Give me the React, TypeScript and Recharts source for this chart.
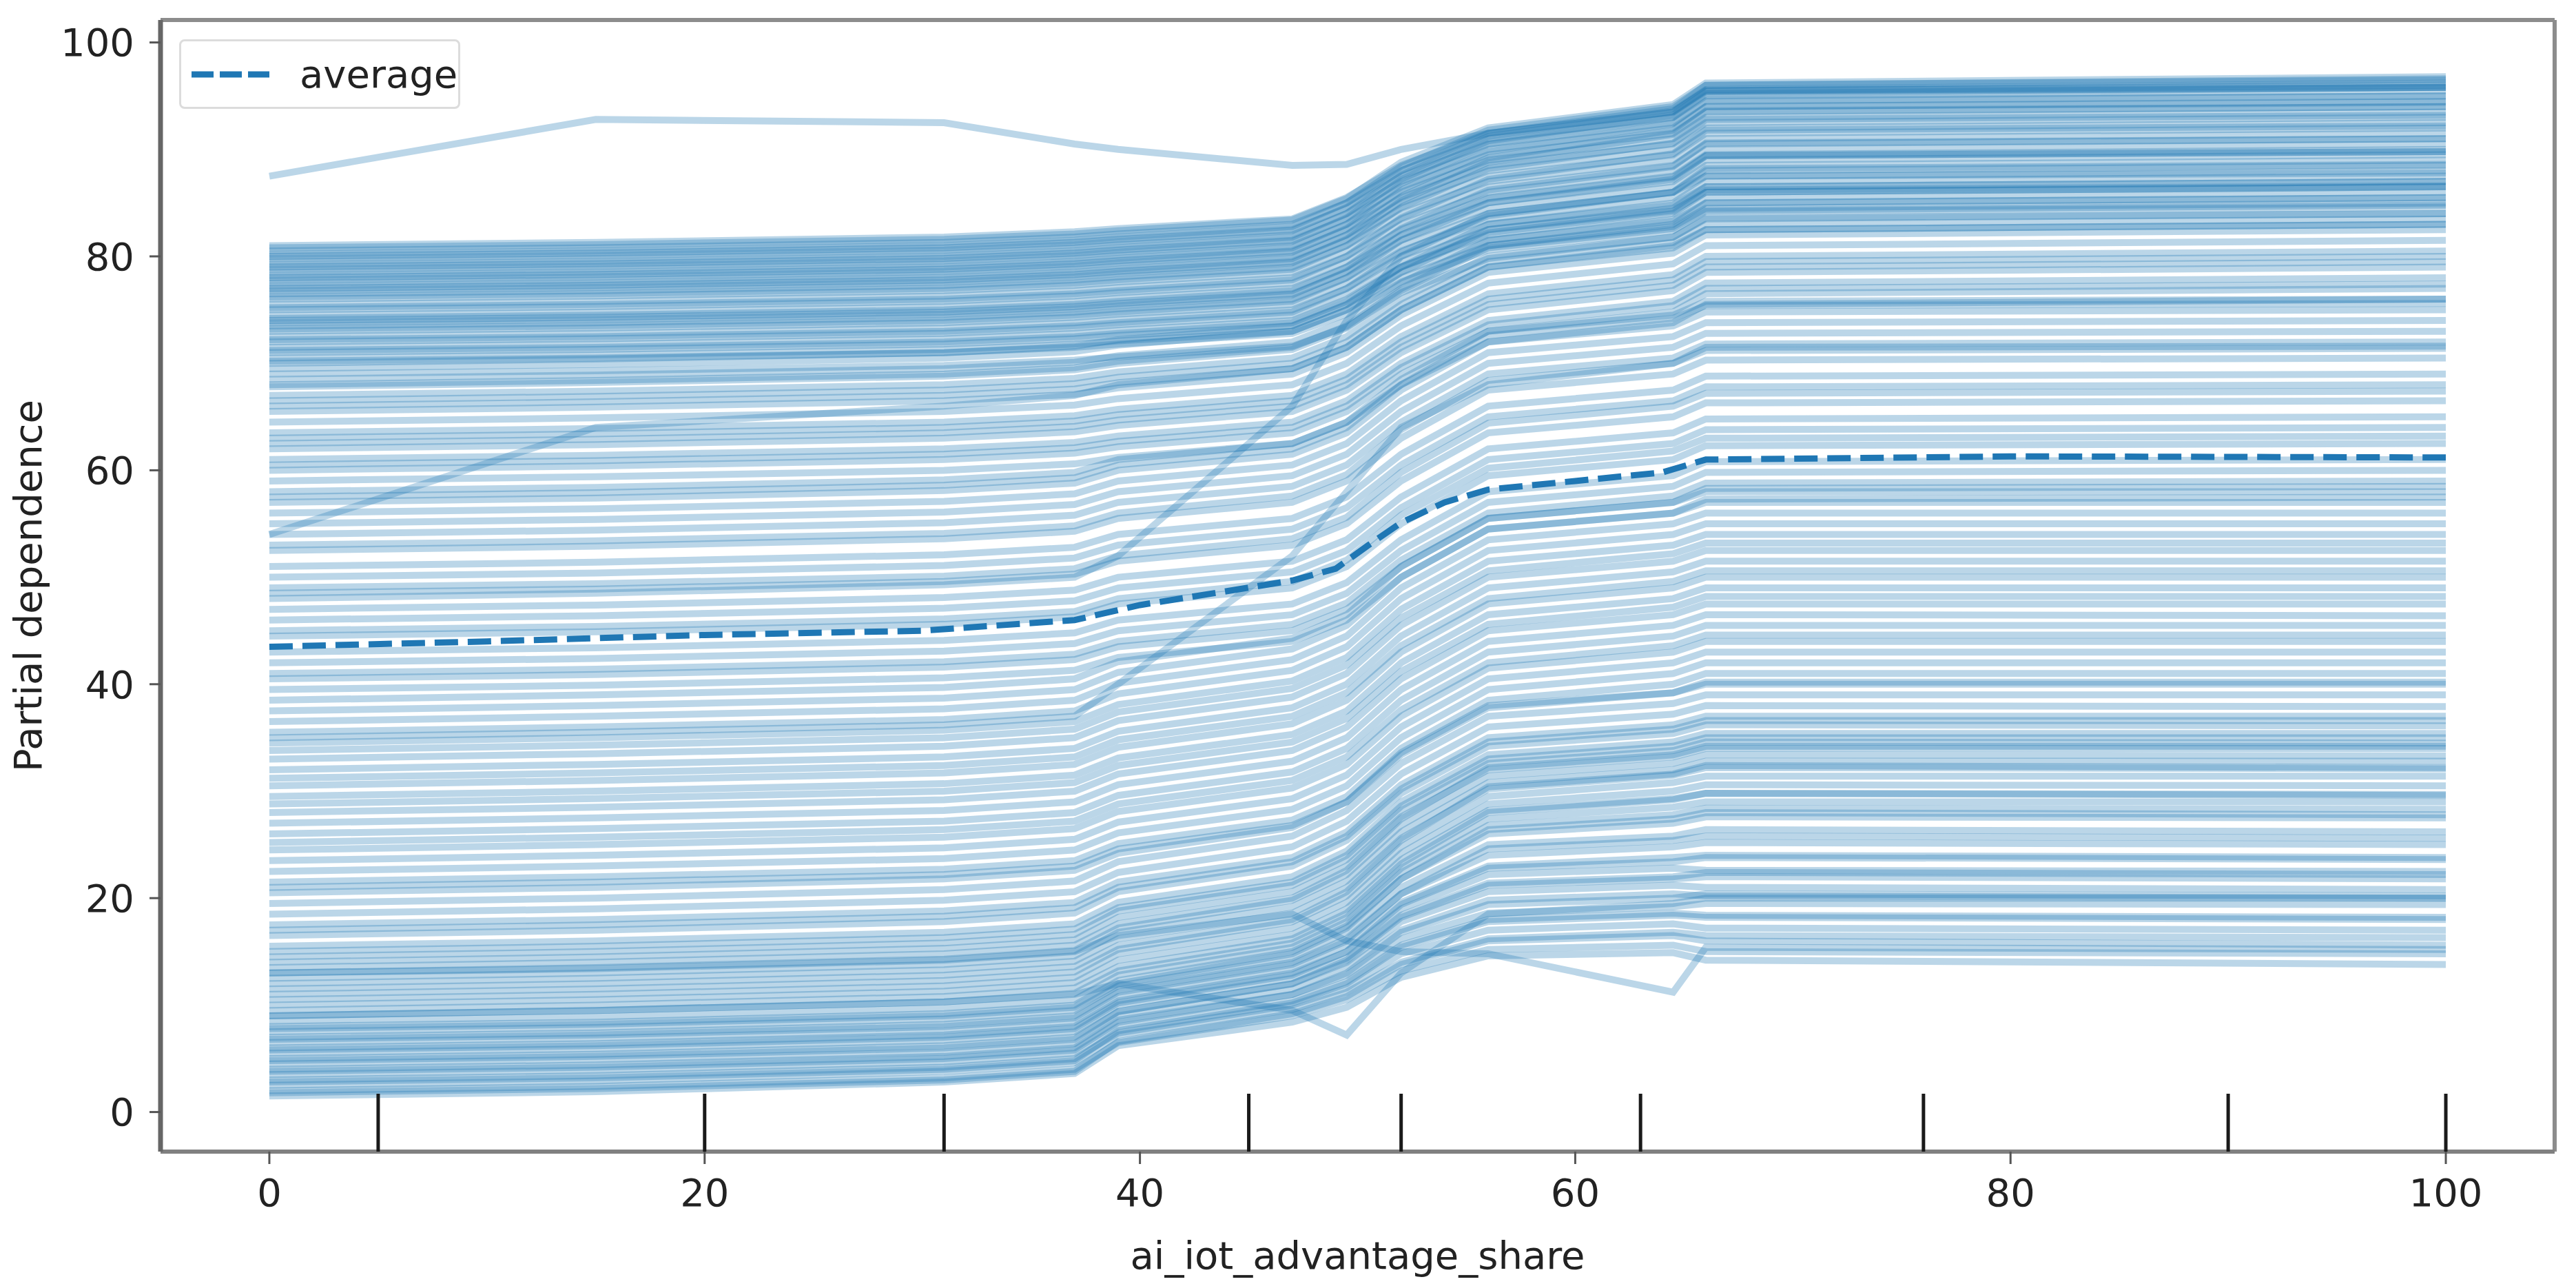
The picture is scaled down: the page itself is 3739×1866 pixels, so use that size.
import { ComposedChart, Legend, Line, ReferenceLine, Scatter, XAxis, YAxis } from 'recharts'

const WIDTH = 3739
const HEIGHT = 1866
const FONT = '"DejaVu Sans", sans-serif'
const BLUE = '#1f77b4'

const gridX = [0, 15, 31, 37, 39, 47, 49.5, 52, 56, 64.5, 66, 100]

// individual conditional expectation curves, one row per sample
const iceLines: number[][] = [
  [1.5, 1.9, 2.8, 3.6, 6.2, 8.4, 9.8, 12.6, 14.6, 14.9, 14.2, 13.8],
  [1.8, 2.2, 3.0, 3.8, 6.6, 9.2, 10.8, 13.8, 16.0, 16.5, 16.0, 15.6],
  [2, 2.4, 3.2, 4.0, 6.5, 9.0, 10.5, 13.2, 15.2, 15.6, 15.0, 14.8],
  [2.5, 2.9, 3.8, 4.6, 7.2, 9.6, 11.2, 14.0, 16.2, 16.8, 16.5, 16.3],
  [2.8, 3.2, 4.0, 4.8, 7.6, 10.2, 12.0, 15.4, 17.8, 18.4, 18.2, 18.0],
  [3, 3.4, 4.2, 5.0, 7.4, 10.0, 11.6, 14.8, 17.0, 17.6, 17.2, 17.0],
  [3.5, 3.9, 4.7, 5.5, 8.0, 10.4, 12.2, 15.6, 18.0, 18.6, 18.4, 18.2],
  [3.8, 4.2, 5.0, 5.8, 8.4, 11.0, 13.0, 16.8, 19.4, 20.0, 20.4, 20.2],
  [4, 4.4, 5.2, 6.0, 8.6, 11.0, 12.8, 16.2, 18.6, 19.2, 19.5, 19.4],
  [4.5, 4.9, 5.6, 6.4, 9.0, 11.5, 13.5, 17.0, 19.8, 20.4, 20.2, 20.0],
  [4.8, 5.2, 6.0, 6.8, 9.4, 12.0, 14.2, 18.2, 21.2, 21.8, 22.0, 21.8],
  [5, 5.4, 6.2, 7.0, 9.4, 12.0, 14.0, 17.8, 20.6, 21.2, 21.0, 20.8],
  [5.5, 5.9, 6.7, 7.5, 10.0, 12.5, 14.4, 18.4, 21.4, 22.0, 22.4, 22.2],
  [5.8, 6.2, 7.0, 7.8, 10.2, 12.8, 15.0, 19.4, 22.8, 23.4, 23.8, 23.6],
  [6, 6.4, 7.2, 8.0, 10.4, 13.0, 15.0, 19.0, 22.2, 22.8, 22.6, 22.5],
  [6.5, 6.9, 7.6, 8.4, 10.8, 13.4, 15.6, 19.6, 23.0, 23.8, 24.0, 23.8],
  [6.8, 7.2, 8.0, 8.8, 11.2, 13.8, 16.0, 20.4, 24.6, 25.4, 25.8, 25.6],
  [7, 7.4, 8.2, 9.0, 11.4, 14.0, 16.2, 20.4, 24.0, 24.8, 25.2, 25.0],
  [7.5, 7.9, 8.7, 9.5, 11.8, 14.4, 16.8, 21.0, 25.0, 25.8, 26.4, 26.2],
  [7.8, 8.2, 9.0, 9.8, 12.0, 14.8, 17.2, 21.8, 26.4, 27.4, 28.0, 27.8],
  [8, 8.4, 9.2, 10.0, 12.3, 15.0, 17.4, 21.8, 26.0, 27.0, 27.6, 27.5],
  [8.5, 8.9, 9.7, 10.5, 12.8, 15.4, 17.8, 22.4, 26.8, 27.8, 28.4, 28.3],
  [9, 9.5, 10.3, 11.1, 13.2, 15.8, 18.2, 22.8, 27.4, 28.5, 29.0, 29.0],
  [9.5, 10.0, 10.8, 11.6, 13.6, 16.2, 18.6, 23.2, 28.0, 29.2, 29.8, 29.6],
  [10, 10.5, 11.3, 12.1, 14.2, 16.6, 19.0, 23.6, 28.2, 29.3, 29.8, 29.7],
  [10.5, 11.0, 11.8, 12.6, 14.8, 17.2, 19.6, 24.2, 28.8, 30.0, 30.6, 30.5],
  [11, 11.5, 12.3, 13.1, 15.2, 17.8, 20.2, 24.8, 29.5, 30.8, 31.4, 31.4],
  [11.5, 12.0, 12.8, 13.6, 15.6, 18.0, 20.6, 25.4, 30.4, 31.6, 32.4, 32.2],
  [12, 12.5, 13.3, 14.1, 16.2, 18.6, 21.0, 25.6, 30.2, 31.5, 32.2, 32.1],
  [12.5, 13.0, 13.8, 14.6, 16.8, 19.2, 21.6, 26.2, 30.8, 32.0, 32.8, 32.8],
  [13, 13.5, 14.3, 15.1, 17.2, 19.8, 22.2, 26.8, 31.4, 32.6, 33.4, 33.3],
  [13.5, 14.0, 14.8, 15.6, 17.6, 20.0, 22.6, 27.4, 32.2, 33.4, 34.2, 34.2],
  [14, 14.5, 15.3, 16.1, 18.2, 20.6, 23.0, 27.6, 32.0, 33.2, 34.0, 34.0],
  [14.5, 15.0, 15.8, 16.6, 18.8, 21.2, 23.6, 28.2, 32.6, 33.8, 34.6, 34.5],
  [15, 15.5, 16.3, 17.1, 19.1, 21.5, 24.0, 28.6, 33.0, 34.2, 35.0, 35.0],
  [15.5, 16.0, 16.8, 17.6, 19.6, 22.0, 24.4, 29.0, 33.4, 34.6, 35.4, 35.4],
  [16.5, 17.0, 17.8, 18.6, 20.6, 23.0, 25.4, 29.8, 34.2, 35.4, 36.2, 36.1],
  [17, 17.5, 18.3, 19.1, 21.0, 23.4, 25.8, 30.2, 34.6, 35.8, 36.6, 36.6],
  [17.5, 18.0, 18.8, 19.6, 21.5, 23.8, 26.2, 30.6, 35.0, 36.2, 37.0, 37.0],
  [18.5, 19.0, 19.8, 20.6, 22.4, 24.8, 27.2, 31.6, 36.0, 37.2, 38.0, 37.9],
  [19.5, 20.0, 20.8, 21.6, 23.4, 25.8, 28.2, 32.6, 37.0, 38.2, 39.0, 39.0],
  [20.5, 21.0, 21.8, 22.6, 24.2, 26.6, 29.0, 33.6, 38.0, 39.2, 40.0, 40.0],
  [21, 21.5, 22.2, 23.0, 24.6, 26.8, 29.0, 33.4, 37.8, 39.2, 40.2, 40.2],
  [21.5, 22.0, 22.7, 23.5, 25.1, 27.3, 29.5, 34.0, 38.5, 40.0, 41.0, 41.0],
  [22.5, 23.0, 23.7, 24.5, 26.1, 28.3, 30.5, 35.0, 39.5, 41.0, 42.0, 42.0],
  [23.5, 24.0, 24.7, 25.5, 27.1, 29.3, 31.5, 36.0, 40.5, 42.0, 43.0, 43.0],
  [24.5, 25.0, 25.7, 26.5, 28.1, 30.3, 32.5, 37.0, 41.5, 43.0, 44.0, 44.0],
  [25.2, 25.7, 26.4, 27.2, 28.8, 31.0, 33.2, 37.6, 42.0, 43.6, 44.6, 44.6],
  [26, 26.5, 27.2, 28.0, 29.6, 31.8, 34.0, 38.5, 43.0, 44.5, 45.5, 45.5],
  [27, 27.5, 28.2, 29.0, 30.6, 32.8, 35.0, 39.5, 44.0, 45.5, 46.5, 46.4],
  [28, 28.5, 29.2, 30.0, 31.6, 33.8, 36.0, 40.5, 45.0, 46.5, 47.5, 47.5],
  [28.8, 29.3, 30.0, 30.8, 32.4, 34.6, 36.8, 41.2, 45.6, 47.2, 48.2, 48.2],
  [29.5, 30.0, 30.7, 31.5, 33.1, 35.3, 37.5, 42.0, 46.5, 48.0, 49.0, 49.0],
  [30.5, 31.0, 31.7, 32.5, 34.1, 36.3, 38.5, 43.0, 47.5, 49.0, 50.0, 50.0],
  [31.2, 31.7, 32.4, 33.2, 34.8, 37.0, 39.2, 43.6, 48.0, 49.6, 50.6, 50.6],
  [32, 32.5, 33.2, 34.0, 35.6, 37.8, 40.0, 44.5, 49.0, 50.5, 51.5, 51.5],
  [33, 33.5, 34.2, 35.0, 36.6, 38.8, 41.0, 45.5, 50.0, 51.5, 52.5, 52.5],
  [33.8, 34.3, 35.0, 35.8, 37.4, 39.6, 41.8, 46.2, 50.6, 52.2, 53.2, 53.2],
  [34.5, 35.0, 35.7, 36.5, 38.1, 40.3, 42.5, 47.0, 51.5, 53.0, 54.0, 54.0],
  [35.5, 36.0, 36.7, 37.5, 39.1, 41.3, 43.5, 48.0, 52.5, 54.0, 55.0, 55.0],
  [36.5, 37.0, 37.7, 38.5, 40.1, 42.3, 44.5, 49.0, 53.5, 55.0, 56.0, 56.0],
  [37.5, 38.0, 38.7, 39.5, 41.1, 43.3, 45.5, 50.0, 54.5, 56.0, 57.0, 57.0],
  [38.5, 39.0, 39.7, 40.5, 42.1, 44.3, 46.5, 51.0, 55.5, 57.0, 58.0, 58.0],
  [39.5, 39.9, 40.6, 41.3, 42.5, 44.0, 46.0, 50.0, 54.5, 56.0, 57.3, 57.5],
  [40.5, 40.9, 41.6, 42.3, 43.5, 45.0, 47.0, 51.0, 55.5, 57.0, 58.3, 58.5],
  [41, 41.4, 42.1, 42.8, 44.0, 45.6, 47.6, 51.6, 56.0, 57.6, 58.8, 59.0],
  [42, 42.4, 43.1, 43.8, 45.0, 46.5, 48.5, 52.5, 57.0, 58.5, 59.8, 60.0],
  [43, 43.4, 44.1, 44.8, 46.0, 47.5, 49.5, 53.5, 58.0, 59.5, 60.8, 61.0],
  [44.5, 44.9, 45.6, 46.3, 47.5, 49.0, 51.0, 55.0, 59.5, 61.0, 62.3, 62.5],
  [45, 45.4, 46.1, 46.8, 48.0, 49.6, 51.6, 55.8, 60.2, 61.8, 63.0, 63.2],
  [46, 46.4, 47.1, 47.8, 49.0, 50.5, 52.5, 56.5, 61.0, 62.5, 63.8, 64.0],
  [47, 47.4, 48.1, 48.8, 50.0, 51.5, 53.5, 57.5, 62.0, 63.5, 64.8, 65.0],
  [48.5, 48.9, 49.6, 50.3, 51.5, 53.0, 55.0, 59.0, 63.5, 65.0, 66.3, 66.5],
  [49, 49.4, 50.1, 50.8, 52.0, 53.6, 55.6, 59.8, 64.4, 66.0, 67.2, 67.4],
  [50, 50.4, 51.1, 51.8, 53.0, 54.5, 56.5, 60.5, 65.0, 66.5, 67.8, 68.0],
  [51, 51.4, 52.1, 52.8, 54.0, 55.5, 57.5, 61.5, 66.0, 67.5, 68.8, 69.0],
  [52.5, 52.9, 53.6, 54.3, 55.5, 57.0, 59.0, 63.0, 67.5, 69.0, 70.3, 70.5],
  [53, 53.4, 54.1, 54.8, 56.0, 57.6, 59.6, 63.8, 68.4, 70.0, 71.2, 71.4],
  [54, 54.4, 55.1, 55.8, 57.0, 58.5, 60.5, 64.5, 69.0, 70.5, 71.8, 72.0],
  [55, 55.4, 56.1, 56.8, 58.0, 59.5, 61.5, 65.5, 70.0, 71.5, 72.8, 73.0],
  [56, 56.4, 57.1, 57.8, 59.0, 60.5, 62.5, 66.5, 71.0, 72.5, 73.8, 74.0],
  [57, 57.4, 58.1, 58.8, 60.0, 61.5, 63.5, 67.5, 72.0, 73.5, 74.8, 75.0],
  [57.5, 57.9, 58.6, 59.3, 60.5, 62.0, 64.0, 68.0, 72.6, 74.2, 75.4, 75.6],
  [58, 58.4, 59.1, 59.8, 61.0, 62.5, 64.5, 68.5, 73.0, 74.5, 75.8, 76.0],
  [59, 59.4, 60.0, 60.6, 61.2, 62.5, 64.5, 68.0, 72.0, 73.8, 75.5, 76.0],
  [60, 60.4, 61.0, 61.6, 62.2, 63.5, 65.5, 69.0, 73.0, 74.8, 76.5, 77.0],
  [60.5, 60.9, 61.5, 62.1, 62.7, 64.0, 66.0, 69.6, 73.6, 75.4, 77.0, 77.4],
  [61, 61.4, 62.0, 62.6, 63.2, 64.5, 66.5, 70.0, 74.0, 75.8, 77.5, 78.0],
  [62, 62.4, 63.0, 63.6, 64.2, 65.5, 67.5, 71.0, 75.0, 76.8, 78.5, 79.0],
  [62.5, 62.9, 63.5, 64.1, 64.7, 66.0, 68.0, 71.5, 75.5, 77.3, 79.0, 79.5],
  [63, 63.4, 64.0, 64.6, 65.2, 66.5, 68.5, 72.0, 76.0, 77.8, 79.5, 80.0],
  [63.5, 63.9, 64.5, 65.1, 65.7, 67.0, 69.0, 72.5, 76.5, 78.3, 80.0, 80.5],
  [64.5, 64.9, 65.5, 66.1, 66.7, 68.0, 70.0, 73.5, 77.5, 79.3, 81.0, 81.5],
  [65.5, 65.9, 66.5, 67.1, 67.7, 69.0, 71.0, 74.5, 78.5, 80.3, 82.0, 82.5],
  [66, 66.4, 67.0, 67.6, 68.2, 69.5, 71.5, 75.0, 79.0, 80.8, 82.5, 83.0],
  [66.5, 66.9, 67.5, 68.1, 68.7, 70.0, 72.0, 75.5, 79.5, 81.3, 83.0, 83.5],
  [67, 67.4, 68.0, 68.6, 69.2, 70.5, 72.5, 76.0, 80.0, 81.8, 83.5, 84.0],
  [67.8, 68.2, 68.8, 69.4, 70.0, 71.3, 73.3, 76.8, 80.8, 82.6, 84.3, 84.8],
  [68, 68.4, 69.0, 69.6, 70.2, 71.5, 73.5, 77.0, 81.0, 82.8, 84.5, 85.0],
  [68.5, 68.9, 69.5, 70.1, 70.7, 72.0, 74.0, 77.5, 81.5, 83.3, 85.0, 85.5],
  [69, 69.3, 69.8, 70.3, 70.6, 71.6, 73.4, 76.6, 79.8, 81.8, 83.6, 84.0],
  [69.5, 69.9, 70.5, 71.1, 71.7, 73.0, 75.0, 78.5, 82.5, 84.3, 86.0, 86.5],
  [70, 70.4, 71.0, 71.6, 72.2, 73.5, 75.5, 79.0, 83.0, 84.8, 86.5, 87.0],
  [70.2, 70.5, 71.0, 71.5, 71.8, 72.8, 74.6, 77.6, 80.6, 82.4, 84.2, 84.6],
  [70.5, 70.8, 71.3, 71.8, 72.1, 73.0, 75.0, 78.0, 81.0, 83.0, 85.0, 85.5],
  [71, 71.3, 71.8, 72.3, 72.6, 73.5, 75.5, 78.5, 81.5, 83.5, 85.5, 86.0],
  [71.2, 71.5, 72.0, 72.5, 72.8, 73.8, 75.8, 79.0, 82.2, 84.2, 86.2, 86.6],
  [71.5, 71.8, 72.3, 72.8, 73.1, 74.0, 76.0, 79.0, 82.0, 84.0, 86.0, 86.5],
  [72, 72.3, 72.8, 73.3, 73.6, 74.5, 76.5, 79.5, 82.5, 84.5, 86.5, 87.0],
  [72.2, 72.5, 73.0, 73.5, 73.8, 74.8, 77.0, 80.4, 83.8, 86.0, 88.2, 88.6],
  [72.5, 72.8, 73.3, 73.8, 74.1, 75.0, 77.0, 80.0, 83.0, 85.0, 87.0, 87.5],
  [73, 73.3, 73.8, 74.3, 74.6, 75.5, 77.5, 80.5, 83.5, 85.5, 87.5, 88.0],
  [73.2, 73.5, 74.0, 74.5, 74.8, 75.8, 78.0, 81.5, 85.0, 87.2, 89.4, 89.8],
  [73.5, 73.8, 74.3, 74.8, 75.1, 76.0, 78.0, 81.0, 84.0, 86.0, 88.0, 88.5],
  [73.8, 74.1, 74.6, 75.1, 75.4, 76.4, 78.6, 82.0, 85.4, 87.4, 89.4, 89.8],
  [74, 74.3, 74.8, 75.3, 75.6, 76.5, 78.5, 81.5, 84.5, 86.5, 88.5, 89.0],
  [74.2, 74.5, 75.0, 75.5, 75.8, 76.8, 79.0, 82.6, 86.2, 88.4, 90.6, 91.0],
  [74.5, 74.8, 75.3, 75.8, 76.1, 77.0, 79.0, 82.0, 85.0, 87.0, 89.0, 89.5],
  [75, 75.3, 75.8, 76.3, 76.6, 77.5, 79.5, 82.5, 85.5, 87.5, 89.5, 90.0],
  [75.2, 75.5, 76.0, 76.5, 76.8, 77.8, 80.0, 83.6, 87.2, 89.6, 91.8, 92.2],
  [75.5, 75.8, 76.3, 76.8, 77.1, 78.0, 80.0, 83.0, 86.0, 88.0, 90.0, 90.5],
  [76, 76.3, 76.8, 77.3, 77.6, 78.5, 80.5, 83.5, 86.5, 88.5, 90.5, 91.0],
  [76.2, 76.5, 77.0, 77.5, 77.8, 78.8, 81.0, 84.6, 88.2, 90.6, 92.8, 93.2],
  [76.5, 76.8, 77.3, 77.8, 78.1, 79.0, 81.0, 84.0, 87.0, 89.0, 91.0, 91.5],
  [76.8, 77.1, 77.6, 78.1, 78.4, 79.4, 81.6, 85.2, 88.8, 91.4, 93.6, 94.0],
  [77, 77.3, 77.8, 78.3, 78.6, 79.5, 81.5, 84.5, 87.5, 89.5, 91.5, 92.0],
  [77.2, 77.5, 78.0, 78.5, 78.8, 79.8, 82.0, 85.6, 89.2, 91.8, 94.0, 94.4],
  [77.5, 77.8, 78.3, 78.8, 79.1, 80.0, 82.0, 85.0, 88.0, 90.0, 92.0, 92.5],
  [77.8, 78.1, 78.6, 79.1, 79.4, 80.4, 82.6, 86.2, 89.8, 92.4, 94.6, 95.0],
  [78, 78.3, 78.8, 79.3, 79.6, 80.5, 82.5, 85.5, 88.5, 90.5, 92.5, 93.0],
  [78.2, 78.5, 79.0, 79.5, 79.8, 80.8, 83.0, 86.8, 90.5, 93.0, 95.2, 95.8],
  [78.5, 78.8, 79.3, 79.8, 80.1, 81.0, 83.0, 86.0, 89.0, 91.0, 93.0, 93.5],
  [78.8, 79.1, 79.6, 80.1, 80.4, 81.4, 83.6, 87.2, 90.8, 93.2, 95.4, 95.8],
  [79, 79.3, 79.8, 80.3, 80.6, 81.5, 83.5, 86.5, 89.5, 91.5, 93.5, 94.0],
  [79.2, 79.5, 80.0, 80.5, 80.8, 81.8, 84.0, 87.6, 91.2, 93.6, 95.6, 96.2],
  [79.5, 79.8, 80.3, 80.8, 81.1, 82.0, 84.0, 87.0, 90.0, 92.0, 94.0, 94.5],
  [79.8, 80.1, 80.6, 81.1, 81.4, 82.4, 84.6, 88.0, 91.5, 93.8, 96.0, 96.6],
  [80, 80.3, 80.8, 81.3, 81.6, 82.5, 84.5, 87.5, 90.5, 92.5, 94.5, 95.0],
  [80.2, 80.5, 81.0, 81.5, 81.8, 82.8, 85.0, 88.4, 91.8, 94.0, 96.0, 96.5],
  [80.5, 80.8, 81.3, 81.8, 82.1, 83.0, 85.0, 88.0, 91.0, 93.0, 95.0, 95.5],
  [80.8, 81.1, 81.6, 82.1, 82.4, 83.4, 85.4, 88.8, 92.0, 94.2, 96.2, 96.8],
  [81, 81.3, 81.8, 82.3, 82.6, 83.5, 85.5, 88.5, 91.5, 93.5, 95.5, 96.0],
  [87.5, 92.8, 92.5, 90.5, 90.0, 88.5, 88.6, 90.0, 91.5, 93.5, 95.5, 95.8],
  [54, 64, 66, 67, 68, 69.5, 71.5, 75, 79, 81, 82.5, 83],
  [48, 48.5, 49.3, 50, 52, 66, 74, 80, 84, 86, 87.5, 87.8],
  [35, 35.5, 36.2, 37, 40, 52, 58, 64, 68, 70, 71.5, 71.6],
  [9, 9.5, 10.3, 11, 12, 9.5, 7.2, 13, 18.5, 19.5, 20, 20],
  [13, 13.4, 14.2, 15, 16.5, 18.5, 16, 15, 14.8, 11.2, 15.4, 15.2],
]

// averaged partial dependence (dashed curve)
const averageX = [0, 10, 20, 30, 37, 40, 44, 47, 49, 50.5, 52, 54, 56, 60, 64, 66, 80, 100]
const averageY = [43.5, 44.0, 44.6, 45.0, 46.0, 47.4, 48.7, 49.7, 50.8, 53.0, 55.1, 57.0, 58.2, 59.0, 59.8, 61.0, 61.3, 61.2]

// deciles of the feature shown as rug marks
const rugX = [5, 20, 31, 45, 52, 63, 76, 90, 100]

const xTicks = [0, 20, 40, 60, 80, 100]
const yTicks = [0, 20, 40, 60, 80, 100]
const xDomain: [number, number] = [-5, 105]
const yDomain: [number, number] = [-3.7, 102.1]

const averageData = averageX.map((x, i) => ({ x, y: averageY[i] }))
const rugData = rugX.map((x) => ({ x, y: yDomain[0] }))

function RugTick(props: any) {
  const { cx, cy } = props
  if (cx == null || cy == null) return null
  return <line x1={cx} x2={cx} y1={cy} y2={cy - 84} stroke="#1a1a1a" strokeWidth={5} />
}

function AverageLegend() {
  return (
    <div
      style={{
        width: 408,
        height: 101,
        boxSizing: 'border-box',
        border: '3px solid #dcdcdc',
        borderRadius: 8,
        background: 'rgba(255,255,255,0.85)',
        display: 'flex',
        alignItems: 'center',
      }}
    >
      <svg width={160} height={20} style={{ marginLeft: 12 }}>
        <line x1={3} x2={116} y1={10} y2={10} stroke={BLUE} strokeWidth={9} strokeDasharray="32 9" />
      </svg>
      <span style={{ fontFamily: FONT, fontSize: 56, color: '#222', lineHeight: 1 }}>average</span>
    </div>
  )
}

const tickStyle = { fontSize: 56, fill: '#222', fontFamily: FONT }

export default function App() {
  return (
    <div style={{ position: 'fixed', left: 0, top: 0, width: WIDTH, height: HEIGHT, background: '#fff' }}>
      <ComposedChart width={WIDTH} height={HEIGHT} margin={{ top: 29, right: 31, bottom: 0, left: 0 }}>
        <XAxis
          dataKey="x"
          type="number"
          domain={xDomain}
          ticks={xTicks}
          allowDataOverflow
          height={195}
          tick={tickStyle}
          tickSize={18}
          tickMargin={21}
          tickLine={{ stroke: '#555', strokeWidth: 3 }}
          axisLine={{ stroke: '#808080', strokeWidth: 6 }}
          label={{ value: 'ai_iot_advantage_share', position: 'insideBottom', offset: 25, style: tickStyle }}
        />
        <YAxis
          dataKey="y"
          type="number"
          domain={yDomain}
          ticks={yTicks}
          allowDataOverflow
          width={233}
          tick={tickStyle}
          tickSize={16}
          tickMargin={22}
          tickLine={{ stroke: '#555', strokeWidth: 3 }}
          axisLine={{ stroke: '#666', strokeWidth: 7 }}
          label={{ value: 'Partial dependence', angle: -90, position: 'center', dx: -76, style: tickStyle }}
        />
        {iceLines.map((vals, i) => (
          <Line
            key={`ice-${i}`}
            data={gridX.map((x, j) => ({ x, y: vals[j] }))}
            dataKey="y"
            type="linear"
            stroke={BLUE}
            strokeOpacity={0.3}
            strokeWidth={10}
            dot={false}
            activeDot={false}
            legendType="none"
            isAnimationActive={false}
          />
        ))}
        <Line
          data={averageData}
          dataKey="y"
          name="average"
          type="linear"
          stroke={BLUE}
          strokeWidth={9}
          strokeDasharray="34 14"
          dot={false}
          activeDot={false}
          isAnimationActive={false}
        />
        <Scatter data={rugData} dataKey="y" shape={RugTick} legendType="none" isAnimationActive={false} />
        <ReferenceLine y={yDomain[1]} stroke="#8c8c8c" strokeWidth={6} />
        <ReferenceLine x={xDomain[1]} stroke="#8c8c8c" strokeWidth={6} />
        <Legend
          content={<AverageLegend />}
          layout="horizontal"
          verticalAlign="middle"
          align="center"
          wrapperStyle={{ left: 260, top: 57, width: 408, height: 101 }}
        />
      </ComposedChart>
    </div>
  )
}
